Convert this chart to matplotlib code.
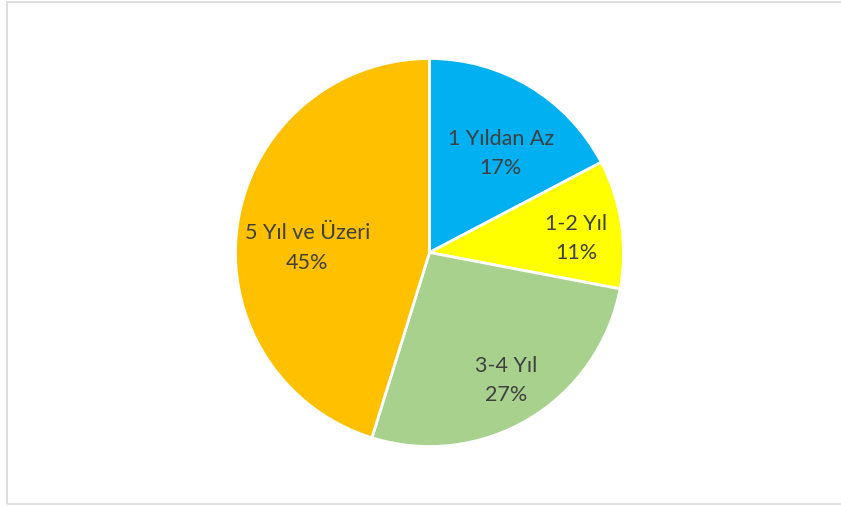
import matplotlib
matplotlib.use("Agg")
import matplotlib.pyplot as plt
from matplotlib.patches import Rectangle
import numpy as np

categories = ["1 Yıldan Az", "1-2 Yıl", "3-4 Yıl", "5 Yıl ve Üzeri"]
values = [17.3, 10.7, 26.8, 45.2]
colors = ["#00B0F0", "#FFFF00", "#A9D18E", "#FFC000"]

# label placement (styling)
label_dist = [0.63, 0.76, 0.77, 0.63]
label_angle_off = [-4.5, -3.0, 0.0, 6.5]

W, H = 841, 507
cx, cy, R = 429.5, 252.5, 194

fig = plt.figure(figsize=(W / 100, H / 100), dpi=100)
ax = fig.add_axes([0, 0, 1, 1])
ax.axis("off")

wedges, _ = ax.pie(values, colors=colors, startangle=90, counterclock=False,
                   radius=1.0, center=(0, 0),
                   wedgeprops=dict(edgecolor="white", linewidth=2.0))
ax.set_xlim(-cx / R, (W - cx) / R)
ax.set_ylim(-(H - cy) / R, cy / R)
ax.set_aspect("auto")

total = sum(values)
for w, cat, v, d, off in zip(wedges, categories, values, label_dist, label_angle_off):
    ang = np.deg2rad((w.theta1 + w.theta2) / 2 + off)
    x, y = d * np.cos(ang), d * np.sin(ang)
    ax.text(x, y, f"{cat}\n{round(100 * v / total)}%", ha="center", va="center",
            fontsize=15.5, color="#404040", family=["Lato", "DejaVu Sans"],
            linespacing=1.58)

fig.patches.append(Rectangle((7 / W, 3 / H), 1.2, 1 - 4.5 / H, transform=fig.transFigure,
                             fill=False, edgecolor="#D9D9D9", linewidth=1.2))

fig.savefig("out.png", dpi=100)
